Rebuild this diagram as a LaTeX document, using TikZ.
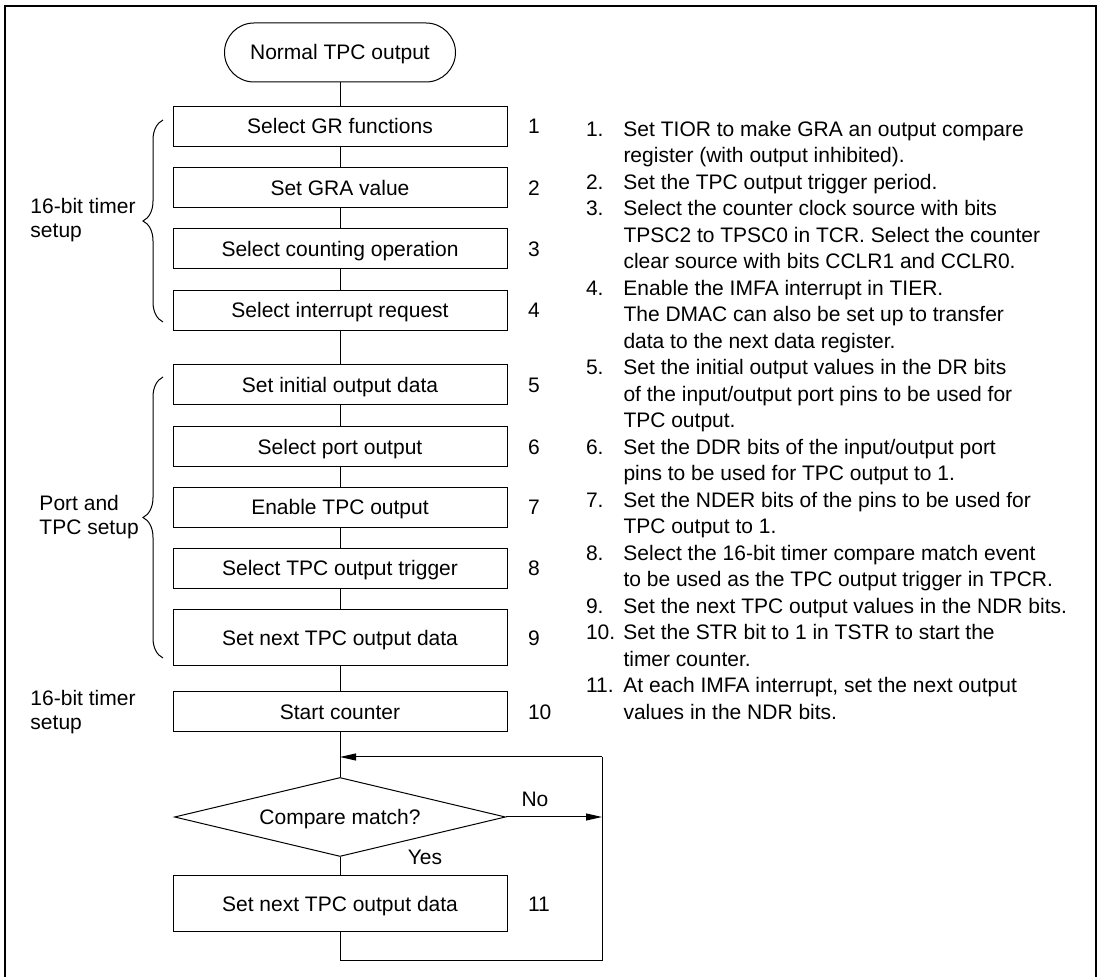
\documentclass[tikz,border=0pt]{standalone}
\usepackage{fontspec}
\setmainfont{Liberation Sans}
\usetikzlibrary{positioning,shapes.geometric,arrows.meta,decorations.pathreplacing}
\begin{document}
\begin{tikzpicture}[
        x=0.5pt, y=-0.5pt,
        font=\fontsize{10.5pt}{13.25pt}\selectfont,
        line width=0.5pt,
        term/.style={draw, rounded corners=14.75pt, minimum width=115.5pt, minimum height=29.5pt, inner sep=0pt, text height=7.5pt, text depth=0pt},
        block/.style={draw, minimum width=167pt, minimum height=20pt, inner sep=0pt, text height=7.5pt, text depth=0pt},
        tall/.style={block, minimum height=28pt},
        decision/.style={draw, diamond, aspect=4.2, minimum width=165.5pt, minimum height=39.5pt, inner sep=0pt, text height=7.5pt, text depth=0pt},
        num/.style={inner sep=0pt, text height=7.5pt, text depth=0pt},
        grp/.style={align=left, inner sep=0pt, anchor=west, font=\fontsize{10.5pt}{12pt}\selectfont},
        brc/.style={decorate, decoration={brace, amplitude=10pt}},
        >={Triangle[length=8pt,width=3.5pt]}
    ]
        \useasboundingbox (0,0) rectangle (1100,977);
        % Frame (open at the bottom)
        \draw[line width=1pt] (5,977) -- (5,6) -- (1096,6) -- (1096,977);

        % Main flow
        \node[term] (start) at (340,52.5) {Normal TPC output};
        \node[block] (b1) at (340,126.5) {Select GR functions};
        \node[block] (b2) at (340,188) {Set GRA value};
        \node[block] (b3) at (340,249) {Select counting operation};
        \node[block] (b4) at (340,310.5) {Select interrupt request};
        \node[block] (b5) at (340,385) {Set initial output data};
        \node[block] (b6) at (340,447) {Select port output};
        \node[block] (b7) at (340,507.5) {Enable TPC output};
        \node[block] (b8) at (340,568.5) {Select TPC output trigger};
        \node[tall] (b9) at (340,638) {Set next TPC output data};
        \node[block] (b10) at (340,712) {Start counter};
        \node[decision] (cmp) at (340,817) {Compare match?};
        \node[tall] (b11) at (340,904) {Set next TPC output data};

        % Step numbers
        \foreach \i in {1,...,11}
            \node[num, right=10pt of b\i] (n\i) {\i};

        % Groups
        \node[grp] (tmr) at (30,220) {16-bit timer\\setup};
        \node[grp] (port) at (39,517) {Port and\\TPC setup};
        \node[grp] (tmr2) at (30,712) {16-bit timer\\setup};
        \draw[brc] (163,322) -- (163,120);
        \draw[brc] (163,658) -- (163,377);

        % Connections
        \draw (start) -- (b1);
        \foreach \i [count=\j from 2] in {1,...,9}
            \draw (b\i) -- (b\j);
        \draw (b10) -- (cmp);
        \draw (cmp) -- (b11);

        % Loop back
        \coordinate (loopTop) at (602,757);
        \coordinate (loopBot) at (602,961);
        \draw[->] (loopTop) -- (loopTop -| b10);
        \draw[->] (cmp.east) -- (cmp.east -| loopTop);
        \draw (b11.south) |- (loopBot) -- (loopTop);
        \node (no) at (535,799) {No};
        \node (yes) at (425,857) {Yes};

        % Notes
        \node[anchor=north west, inner sep=0pt] (notes) at (585.5,117) {%
            \begin{tabular}{@{}p{18.75pt}@{}l@{}}
            1. & Set TIOR to make GRA an output compare\\
               & register (with output inhibited).\\
            2. & Set the TPC output trigger period.\\
            3. & Select the counter clock source with bits\\
               & TPSC2 to TPSC0 in TCR. Select the counter\\
               & clear source with bits CCLR1 and CCLR0.\\
            4. & Enable the IMFA interrupt in TIER.\\
               & The DMAC can also be set up to transfer\\
               & data to the next data register.\\
            5. & Set the initial output values in the DR bits\\
               & of the input/output port pins to be used for\\
               & TPC output.\\
            6. & Set the DDR bits of the input/output port\\
               & pins to be used for TPC output to 1.\\
            7. & Set the NDER bits of the pins to be used for\\
               & TPC output to 1.\\
            8. & Select the 16-bit timer compare match event\\
               & to be used as the TPC output trigger in TPCR.\\
            9. & Set the next TPC output values in the NDR bits.\\
            10. & Set the STR bit to 1 in TSTR to start the\\
               & timer counter.\\
            11. & At each IMFA interrupt, set the next output\\
               & values in the NDR bits.
            \end{tabular}};
    \end{tikzpicture}
\end{document}
